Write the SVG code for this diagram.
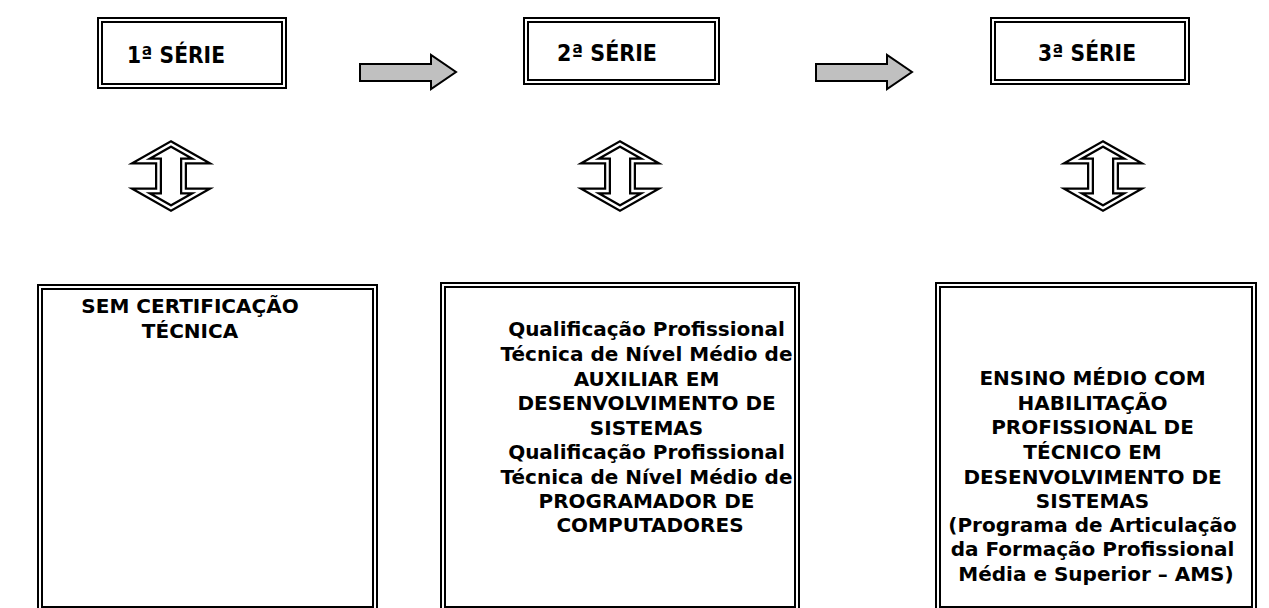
<svg xmlns="http://www.w3.org/2000/svg" width="1269" height="608" viewBox="0 0 1269 608">
<style>
.bo{fill:#fff;stroke:#000;stroke-width:6}
.bi{fill:none;stroke:#fff;stroke-width:2}
.t{font-family:"DejaVu Sans","Liberation Sans",sans-serif;font-weight:bold;font-size:20px;fill:#000;text-anchor:middle}
.h{font-family:"DejaVu Sans","Liberation Sans",sans-serif;font-weight:bold;font-size:23px;fill:#000;text-anchor:start}
.ga{fill:#c0c0c0;stroke:#000;stroke-width:2}
.uo{fill:#fff;stroke:#000;stroke-width:7;stroke-linejoin:miter}
.ui{fill:none;stroke:#fff;stroke-width:2.5;stroke-linejoin:miter}
</style>
<defs>
<path id="ud" d="M0,144 L30,161 L12.5,161 L12.5,191 L30,191 L0,208 L-30,191 L-12.5,191 L-12.5,161 L-30,161 Z"/>
</defs>
<rect width="1269" height="608" fill="#fff"/>
<g id="serie1">
<rect class="bo" x="100" y="20" width="184" height="66"/>
<rect class="bi" x="100" y="20" width="184" height="66"/>
<text class="h" x="127" y="63" textLength="98" lengthAdjust="spacingAndGlyphs">1ª SÉRIE</text>
</g>
<g id="serie2">
<rect class="bo" x="526" y="20" width="191" height="62"/>
<rect class="bi" x="526" y="20" width="191" height="62"/>
<text class="h" x="557" y="61" textLength="100" lengthAdjust="spacingAndGlyphs">2ª SÉRIE</text>
</g>
<g id="serie3">
<rect class="bo" x="993" y="20" width="194" height="62"/>
<rect class="bi" x="993" y="20" width="194" height="62"/>
<text class="h" x="1038" y="61" textLength="98" lengthAdjust="spacingAndGlyphs">3ª SÉRIE</text>
</g>
<g id="connectors">
<polygon class="ga" points="360,64 431,64 431,55 456,72 431,89 431,81 360,81"/>
<polygon class="ga" points="816,64 887,64 887,55 912,72 887,89 887,81 816,81"/>
<g transform="translate(171,0)"><use href="#ud" class="uo"/><use href="#ud" class="ui"/></g>
<g transform="translate(620,0)"><use href="#ud" class="uo"/><use href="#ud" class="ui"/></g>
<g transform="translate(1103,0)"><use href="#ud" class="uo"/><use href="#ud" class="ui"/></g>
</g>
<g id="box1">
<rect class="bo" x="40" y="287" width="335" height="322"/>
<rect class="bi" x="40" y="287" width="335" height="322"/>
<text class="t" x="190" y="313">SEM CERTIFICAÇÃO</text>
<text class="t" x="190" y="338">TÉCNICA</text>
</g>
<g id="box2">
<rect class="bo" x="443" y="285" width="354" height="324"/>
<rect class="bi" x="443" y="285" width="354" height="324"/>
<text class="t" x="650">
<tspan x="650" y="336">Qualificação Profissional</tspan>
<tspan x="650" y="361">Técnica de Nível Médio de</tspan>
<tspan x="650" y="386">AUXILIAR EM</tspan>
<tspan x="650" y="410">DESENVOLVIMENTO DE</tspan>
<tspan x="650" y="435">SISTEMAS</tspan>
<tspan x="650" y="459">Qualificação Profissional</tspan>
<tspan x="650" y="484">Técnica de Nível Médio de</tspan>
<tspan x="650" y="508">PROGRAMADOR DE</tspan>
<tspan x="650" y="532">COMPUTADORES</tspan>
</text>
</g>
<g id="box3">
<rect class="bo" x="938" y="285" width="316" height="324"/>
<rect class="bi" x="938" y="285" width="316" height="324"/>
<text class="t" x="1096">
<tspan x="1096" y="385">ENSINO MÉDIO COM</tspan>
<tspan x="1096" y="410">HABILITAÇÃO</tspan>
<tspan x="1096" y="434">PROFISSIONAL DE</tspan>
<tspan x="1096" y="459">TÉCNICO EM</tspan>
<tspan x="1096" y="484">DESENVOLVIMENTO DE</tspan>
<tspan x="1096" y="508">SISTEMAS</tspan>
<tspan x="1096" y="532">(Programa de Articulação</tspan>
<tspan x="1096" y="556">da Formação Profissional</tspan>
<tspan x="1096" y="581">Média e Superior – AMS)</tspan>
</text>
</g>
</svg>
